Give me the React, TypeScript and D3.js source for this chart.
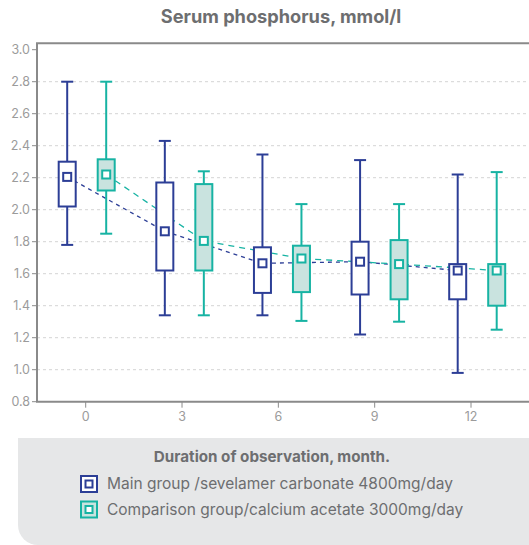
import React from "react";
import * as d3 from "d3";

const months = [0, 3, 6, 9, 12];
const yTicks = [0.8, 1.0, 1.2, 1.4, 1.6, 1.8, 2.0, 2.2, 2.4, 2.6, 2.8, 3.0];

const mainLow = [1.78, 1.34, 1.34, 1.22, 0.98];
const mainQ1 = [2.02, 1.62, 1.48, 1.47, 1.44];
const mainQ3 = [2.3, 2.17, 1.765, 1.8, 1.66];
const mainHigh = [2.8, 2.43, 2.345, 2.31, 2.22];
const mainMean = [2.205, 1.865, 1.665, 1.675, 1.62];

const compLow = [1.85, 1.34, 1.305, 1.3, 1.25];
const compQ1 = [2.12, 1.62, 1.485, 1.44, 1.4];
const compQ3 = [2.315, 2.16, 1.775, 1.81, 1.66];
const compHigh = [2.8, 2.24, 2.035, 2.035, 2.235];
const compMean = [2.22, 1.805, 1.695, 1.66, 1.62];

const MAIN = "#2c3e96";
const COMP = "#17b3a3";
const COMP_FILL = "#c9e3df";

export default function App() {
  const W = 529;
  const H = 545;
  const y = d3.scaleLinear().domain([0.8, 3.0]).range([401.7, 49.7]);
  const xTick = d3.scaleLinear().domain([0, 12]).range([85.7, 471]);
  const xGroup = d3.scaleLinear().domain([0, 4]).range([86.7, 477.2]);
  const off = 19.5;
  const bw = 17;
  const left = 37;
  const top = 43.3;
  const bottom = 401.7;

  const series = [
    { color: MAIN, fill: "#ffffff", dx: -off, low: mainLow, q1: mainQ1, q3: mainQ3, high: mainHigh, mean: mainMean, dash: "4 4" },
    { color: COMP, fill: COMP_FILL, dx: off, low: compLow, q1: compQ1, q3: compQ3, high: compHigh, mean: compMean, dash: "6 5" },
  ];

  const line = d3.line<[number, number]>();

  return (
    <svg width={W} height={H} style={{ position: "absolute", left: 0, top: 0 }}>
      <text x={281} y={22.5} textAnchor="middle" fontFamily="Inter, sans-serif" fontWeight={700} fontSize={18.2} fill="#6d6e70">
        Serum phosphorus, mmol/l
      </text>
      {yTicks.filter((v) => v > 0.9 && v < 2.9).map((v) => (
        <line key={v} x1={left} x2={W} y1={y(v)} y2={y(v)} stroke="#d4d4d4" strokeWidth={1} strokeDasharray="3 3" />
      ))}
      {yTicks.map((v) => (
        <g key={"t" + v}>
          <line x1={left - 5} x2={left} y1={y(v)} y2={y(v)} stroke="#8c8c8c" strokeWidth={1} />
          <text x={left - 7} y={y(v)} dy="0.35em" textAnchor="end" fontFamily="Inter, sans-serif" fontSize={12.5} fill="#9b9b9b">
            {v.toFixed(1)}
          </text>
        </g>
      ))}
      {months.map((m) => (
        <g key={"x" + m}>
          <line x1={xTick(m)} x2={xTick(m)} y1={bottom} y2={bottom + 6} stroke="#8c8c8c" strokeWidth={1} />
          <text x={xTick(m)} y={417} dy="0.35em" textAnchor="middle" fontFamily="Inter, sans-serif" fontSize={12.5} fill="#9b9b9b">
            {m}
          </text>
        </g>
      ))}
      {series.map((s, si) => (
        <path
          key={"l" + si}
          d={line(s.mean.map((v, i) => [xGroup(i) + s.dx, y(v)] as [number, number])) || ""}
          fill="none"
          stroke={s.color}
          strokeWidth={1.3}
          strokeDasharray={s.dash}
        />
      ))}
      {series.map((s, si) =>
        months.map((m, i) => {
          const cx = xGroup(i) + s.dx;
          return (
            <g key={"b" + si + "-" + i}>
              <line x1={cx} x2={cx} y1={y(s.high[i])} y2={y(s.q3[i])} stroke={s.color} strokeWidth={2} />
              <line x1={cx} x2={cx} y1={y(s.q1[i])} y2={y(s.low[i])} stroke={s.color} strokeWidth={2} />
              <line x1={cx - 6} x2={cx + 6} y1={y(s.high[i])} y2={y(s.high[i])} stroke={s.color} strokeWidth={2} />
              <line x1={cx - 6} x2={cx + 6} y1={y(s.low[i])} y2={y(s.low[i])} stroke={s.color} strokeWidth={2} />
              <rect x={cx - bw / 2} y={y(s.q3[i])} width={bw} height={y(s.q1[i]) - y(s.q3[i])} fill={s.fill} stroke={s.color} strokeWidth={2} />
              <rect x={cx - 4} y={y(s.mean[i]) - 4} width={8} height={8} fill="#ffffff" stroke={s.color} strokeWidth={2} />
            </g>
          );
        })
      )}
      <path d={`M${W},${top}H${left}V${bottom}H${W}`} fill="none" stroke="#8a8a8a" strokeWidth={2} />
      <path d={`M18,438H${W}V${H}H38A20,20 0 0 1 18,${H - 20}Z`} fill="#e6e7e8" />
      <text x={272} y={462} textAnchor="middle" fontFamily="Inter, sans-serif" fontWeight={700} fontSize={15.2} fill="#6d6e70">
        Duration of observation, month.
      </text>
      {[
        { c: MAIN, f: "#ffffff", t: "Main group /sevelamer carbonate 4800mg/day", yy: 484 },
        { c: COMP, f: COMP_FILL, t: "Comparison group/calcium acetate 3000mg/day", yy: 509.5 },
      ].map((it) => (
        <g key={it.t}>
          <rect x={81} y={it.yy - 8} width={16} height={16} fill={it.f} stroke={it.c} strokeWidth={2} />
          <rect x={85.5} y={it.yy - 3.5} width={7} height={7} fill="#ffffff" stroke={it.c} strokeWidth={2} />
          <text x={107} y={it.yy} dy="0.35em" fontFamily="Inter, sans-serif" fontSize={15.5} fill="#6d6e70">
            {it.t}
          </text>
        </g>
      ))}
    </svg>
  );
}
